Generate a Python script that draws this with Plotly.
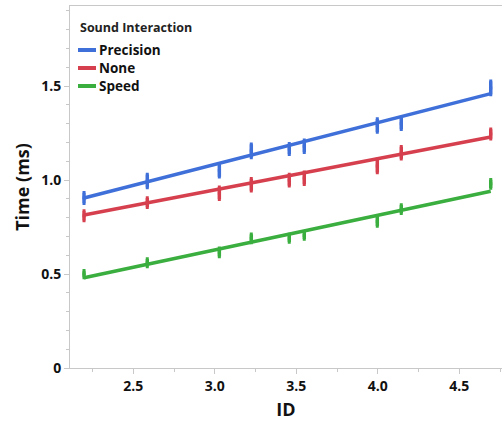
import plotly.graph_objects as go

# ---- data ----
groups = ["Precision", "None", "Speed"]
colors = ["#3F6FD9", "#D6404E", "#3AAE3E"]

id_values = [2.198, 2.586, 3.028, 3.224, 3.457, 3.549, 3.997, 4.144, 4.693]

time_precision = [0.905, 0.995, 1.05, 1.155, 1.165, 1.18, 1.29, 1.30, 1.49]
time_none = [0.81, 0.88, 0.93, 0.975, 1.0, 1.01, 1.075, 1.145, 1.245]
time_speed = [0.50, 0.56, 0.615, 0.69, 0.69, 0.705, 0.78, 0.845, 0.98]

err_precision = [0.028, 0.035, 0.032, 0.035, 0.028, 0.032, 0.035, 0.030, 0.035]
err_none = [0.025, 0.025, 0.032, 0.032, 0.030, 0.032, 0.035, 0.032, 0.025]
err_speed = [0.018, 0.020, 0.022, 0.022, 0.020, 0.018, 0.025, 0.022, 0.022]

# fitted regression lines (intercept, slope)
fit_intercepts = [0.416, 0.449, 0.075]
fit_slopes = [0.2224, 0.1663, 0.1844]

x_ticks = [2.5, 3.0, 3.5, 4.0, 4.5]
x_ticktext = ["2.5", "3.0", "3.5", "4.0", "4.5"]
y_ticks = [0, 0.5, 1.0, 1.5]
y_ticktext = ["0", "0.5", "1.0", "1.5"]

series = [time_precision, time_none, time_speed]
errors = [err_precision, err_none, err_speed]

FONT = "Open Sans"
fig = go.Figure()

x_lo, x_hi = min(id_values), max(id_values)
for name, col, ys, es, b0, b1 in zip(groups, colors, series, errors, fit_intercepts, fit_slopes):
    fig.add_trace(go.Scatter(
        x=[x_lo, x_hi], y=[b0 + b1 * x_lo, b0 + b1 * x_hi],
        mode="lines", line=dict(color=col, width=3.5), name=name,
        showlegend=False, hoverinfo="skip"))
    fig.add_trace(go.Scatter(
        x=id_values, y=ys, mode="markers",
        marker=dict(size=3, color=col, symbol="square"),
        error_y=dict(type="data", array=es, visible=True, color=col,
                     thickness=3.5, width=1.5),
        showlegend=False, name=name))

# manual legend (JMP style)
W, H = 502, 425
ml, mr, mt, mb = 70, 0, 6, 57
pw, ph = W - ml - mr, H - mt - mb


def px_x(px):
    return (px - ml) / pw


def px_y(py):
    return (H - mb - py) / ph


fig.add_annotation(x=px_x(78), y=px_y(27), xref="paper", yref="paper",
                   text="<b>Sound Interaction</b>", showarrow=False,
                   xanchor="left", yanchor="middle",
                   font=dict(family=FONT, size=12.5, color="#222222"))
for i, (name, col) in enumerate(zip(groups, colors)):
    yy = 50 + i * 18
    fig.add_shape(type="line", xref="paper", yref="paper",
                  x0=px_x(78), x1=px_x(96), y0=px_y(yy), y1=px_y(yy),
                  line=dict(color=col, width=4))
    fig.add_annotation(x=px_x(97), y=px_y(yy), xref="paper", yref="paper",
                       text="<b>" + name + "</b>", showarrow=False,
                       xanchor="left", yanchor="middle",
                       font=dict(family=FONT, size=13.5, color="#111111"))

axis_common = dict(showline=True, linecolor="#C8C8C8", linewidth=1,
                   ticks="outside", tickcolor="#C8C8C8", ticklen=5,
                   showgrid=False, zeroline=False,
                   tickfont=dict(family=FONT, size=14, color="#111111"))

fig.update_layout(
    width=W, height=H,
    margin=dict(l=ml, r=mr, t=mt, b=mb),
    paper_bgcolor="white", plot_bgcolor="white",
    showlegend=False,
    xaxis=dict(range=[2.112, 4.762], tickvals=x_ticks,
               ticktext=["<b>" + t + "</b>" for t in x_ticktext],
               minor=dict(dtick=0.25, ticks="outside", ticklen=3, tickcolor="#C8C8C8"),
               mirror=True,
               title=dict(text="<b>ID</b>", font=dict(family=FONT, size=18, color="#111111"), standoff=9),
               **axis_common),
    yaxis=dict(range=[0, 1.926], tickvals=y_ticks,
               ticktext=["<b>" + t + "</b>" for t in y_ticktext],
               minor=dict(dtick=0.1, ticks="outside", ticklen=3, tickcolor="#C8C8C8"),
               title=dict(text="<b>Time (ms)</b>", font=dict(family=FONT, size=18, color="#111111"), standoff=6),
               **axis_common),
)

fig.write_html("out.html", config={"displayModeBar": False},
               post_script="document.body.style.margin='0';document.body.style.padding='0';")
